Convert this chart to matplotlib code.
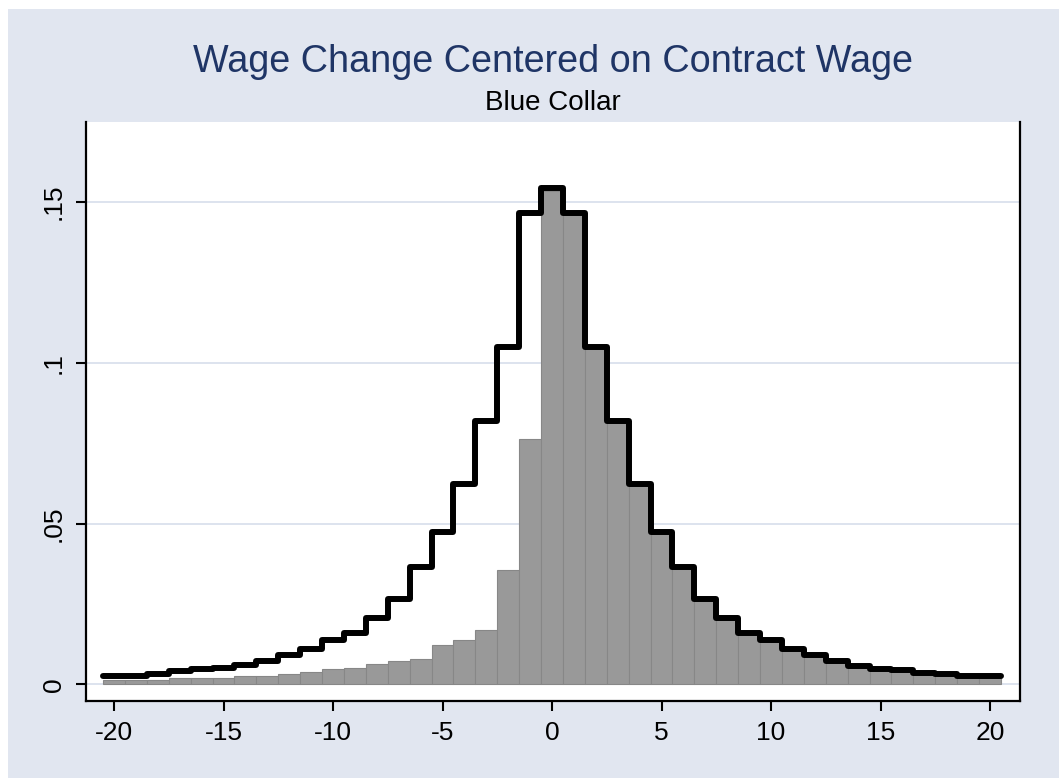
import matplotlib
matplotlib.use("Agg")
import matplotlib.pyplot as plt
from matplotlib.patches import Rectangle
import numpy as np

plt.rcParams['font.family'] = ['Liberation Sans', 'DejaVu Sans']

# Data: bin centers (wage change relative to contract wage)
bins = list(range(-20, 21))

# Observed distribution (gray bars), bins -20..20
bar_vals = [0.0013, 0.0014, 0.0014, 0.0018, 0.0019, 0.0020, 0.0025, 0.0025, 0.0032, 0.0037,
            0.0046, 0.0052, 0.0064, 0.0071, 0.0079, 0.0122, 0.0137, 0.0169, 0.0357, 0.0764,
            0.1535,
            0.1462, 0.1050, 0.0820, 0.0623, 0.0473, 0.0364, 0.0266, 0.0207, 0.0159, 0.0137,
            0.0111, 0.0090, 0.0071, 0.0056, 0.0049, 0.0043, 0.0036, 0.0031, 0.0025, 0.0025]

# Symmetric notional distribution (black step line), bins -20..20
line_vals = [0.0025, 0.0025, 0.0032, 0.0040, 0.0047, 0.0052, 0.0059, 0.0071, 0.0090, 0.0111,
             0.0137, 0.0159, 0.0207, 0.0266, 0.0365, 0.0473, 0.0623, 0.0820, 0.1050, 0.1465,
             0.1545,
             0.1465, 0.1050, 0.0820, 0.0623, 0.0473, 0.0365, 0.0266, 0.0207, 0.0159, 0.0137,
             0.0111, 0.0090, 0.0071, 0.0056, 0.0049, 0.0043, 0.0036, 0.0031, 0.0025, 0.0025]

x_ticks = [-20, -15, -10, -5, 0, 5, 10, 15, 20]
x_ticklabels = ['-20', '-15', '-10', '-5', '0', '5', '10', '15', '20']
y_ticks = [0, 0.05, 0.1, 0.15]
y_ticklabels = ['0', '.05', '.1', '.15']

title = "Wage Change Centered on Contract Wage"
subtitle = "Blue Collar"

W, H = 1059, 778
fig = plt.figure(figsize=(W / 100, H / 100), dpi=100, facecolor='white')

bg = Rectangle((8 / W, 0), 1 - 8 / W, 1 - 9 / H, transform=fig.transFigure,
               facecolor='#e1e6f0', edgecolor='none', zorder=-10)
fig.add_artist(bg)

left, right, top, bottom = 86, 1020, 122, 701
ax = fig.add_axes([left / W, (H - bottom) / H, (right - left) / W, (bottom - top) / H])
ax.set_facecolor('white')

ax.bar(bins, bar_vals, width=1.0, color='#999999', edgecolor='#878787',
       linewidth=0.8, zorder=2)

edges = np.arange(bins[0] - 0.5, bins[-1] + 1.0, 1.0)
ax.stairs(line_vals, edges, baseline=None, color='black', linewidth=4.3,
          zorder=3, joinstyle='round', capstyle='round')

ax.set_xlim(-21.28, 21.37)
ax.set_ylim(-0.0052, 0.1749)

ax.set_xticks(x_ticks)
ax.set_xticklabels(x_ticklabels)
ax.set_yticks(y_ticks)
ax.set_yticklabels(y_ticklabels, rotation=90, va='center')

ax.tick_params(axis='both', direction='out', length=7.5, width=1.5, color='black',
               labelsize=19, pad=7)

ax.yaxis.grid(True, color='#dde3ee', linewidth=1.4, zorder=0)
ax.xaxis.grid(False)
ax.set_axisbelow(True)

for s in ['left', 'right', 'bottom']:
    ax.spines[s].set_linewidth(1.6)
    ax.spines[s].set_color('black')
ax.spines['top'].set_visible(False)

cx = (left + right) / 2 / W
fig.text(cx, 1 - 72 / H, title, ha='center', va='baseline', fontsize=27.2, color='#1f3566')
fig.text(cx, 1 - 110 / H, subtitle, ha='center', va='baseline', fontsize=20, color='black')

fig.savefig('out.png', dpi=100, facecolor=fig.get_facecolor())
